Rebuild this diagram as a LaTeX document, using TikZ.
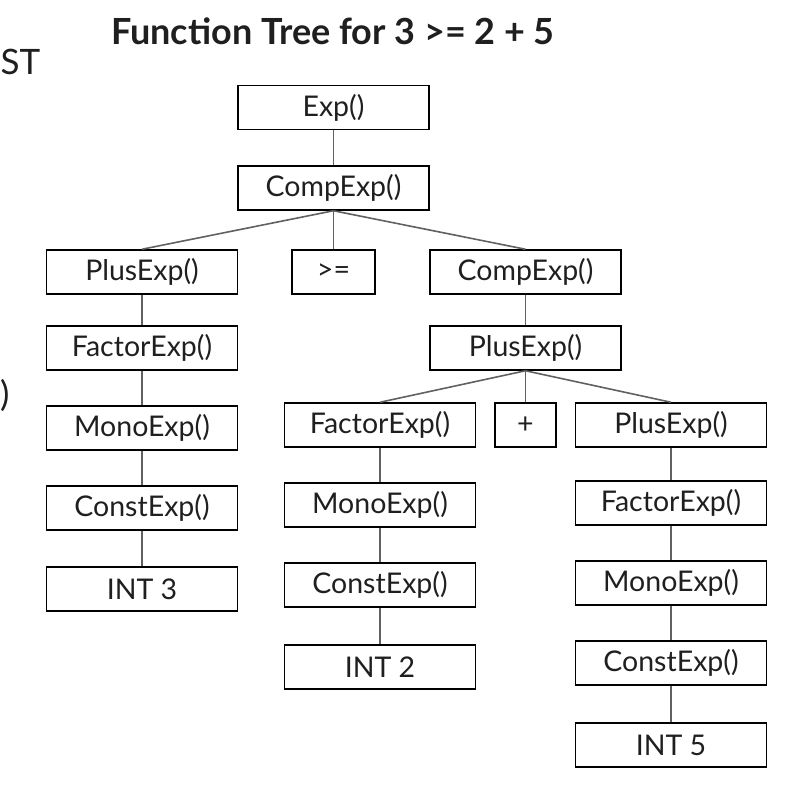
\documentclass[tikz,border=0pt]{standalone}
\usepackage{fontspec}
\setmainfont{Lato}
\usetikzlibrary{positioning}

\begin{document}
\begin{tikzpicture}[
    x=1pt, y=-1pt,
    func/.style={rectangle, draw, line width=1.5pt, minimum width=191pt, minimum height=44pt, inner sep=0pt, text=black!88, font=\fontsize{28.5}{32}\selectfont},
    token/.style={func, minimum width=83pt},
    edge/.style={draw=black!62, line width=1.6pt}
]
    \useasboundingbox (0,0) rectangle (784,786);

    \node[text=black!88, font=\bfseries\fontsize{36}{40}\selectfont] (title) at (333,31) {Function Tree for 3 >= 2 + 5};
    \node[anchor=west, inner sep=0pt, text=black!88, font=\fontsize{35}{40}\selectfont] (cut1) at (0.5,62) {ST};
    \node[anchor=west, inner sep=0pt, text=black!88, font=\fontsize{35}{40}\selectfont] (cut2) at (0,395) {)};

    % top of the tree
    \node[func] (exp) at (333.5,107.5) {Exp()};
    \node[func] (comp) at (333.5,188) {CompExp()};

    % left branch: 3
    \node[func] (plusL) at (142,272) {PlusExp()};
    \node[func] (factL) at (142,348) {FactorExp()};
    \node[func] (monoL) at (142,428) {MonoExp()};
    \node[func] (constL) at (142,508) {ConstExp()};
    \node[func] (int3) at (142,589) {INT 3};

    \node[token] (geq) at (333.5,272) {>=};

    % right branch: 2 + 5
    \node[func] (compR) at (525.5,272) {CompExp()};
    \node[func] (plusR) at (525.5,348) {PlusExp()};

    \node[func] (factM) at (380,425) {FactorExp()};
    \node[func] (monoM) at (380,505) {MonoExp()};
    \node[func] (constM) at (380,585) {ConstExp()};
    \node[func] (int2) at (380,667) {INT 2};

    \node[token, minimum width=61pt] (plus) at (525.5,425) {+};

    \node[func] (plusRR) at (671,425) {PlusExp()};
    \node[func] (factR) at (671,503) {FactorExp()};
    \node[func] (monoR) at (671,583) {MonoExp()};
    \node[func] (constR) at (671,663) {ConstExp()};
    \node[func] (int5) at (671,745) {INT 5};

    % connectors
    \draw[edge] (exp) -- (comp);
    \draw[edge] (comp.south) -- (plusL.north);
    \draw[edge] (comp.south) -- (geq.north);
    \draw[edge] (comp.south) -- (compR.north);
    \draw[edge] (plusL) -- (factL);
    \draw[edge] (factL) -- (monoL);
    \draw[edge] (monoL) -- (constL);
    \draw[edge] (constL) -- (int3);
    \draw[edge] (compR) -- (plusR);
    \draw[edge] (plusR.south) -- (factM.north);
    \draw[edge] (plusR.south) -- (plus.north);
    \draw[edge] (plusR.south) -- (plusRR.north);
    \draw[edge] (factM) -- (monoM);
    \draw[edge] (monoM) -- (constM);
    \draw[edge] (constM) -- (int2);
    \draw[edge] (plusRR) -- (factR);
    \draw[edge] (factR) -- (monoR);
    \draw[edge] (monoR) -- (constR);
    \draw[edge] (constR) -- (int5);
\end{tikzpicture}
\end{document}
